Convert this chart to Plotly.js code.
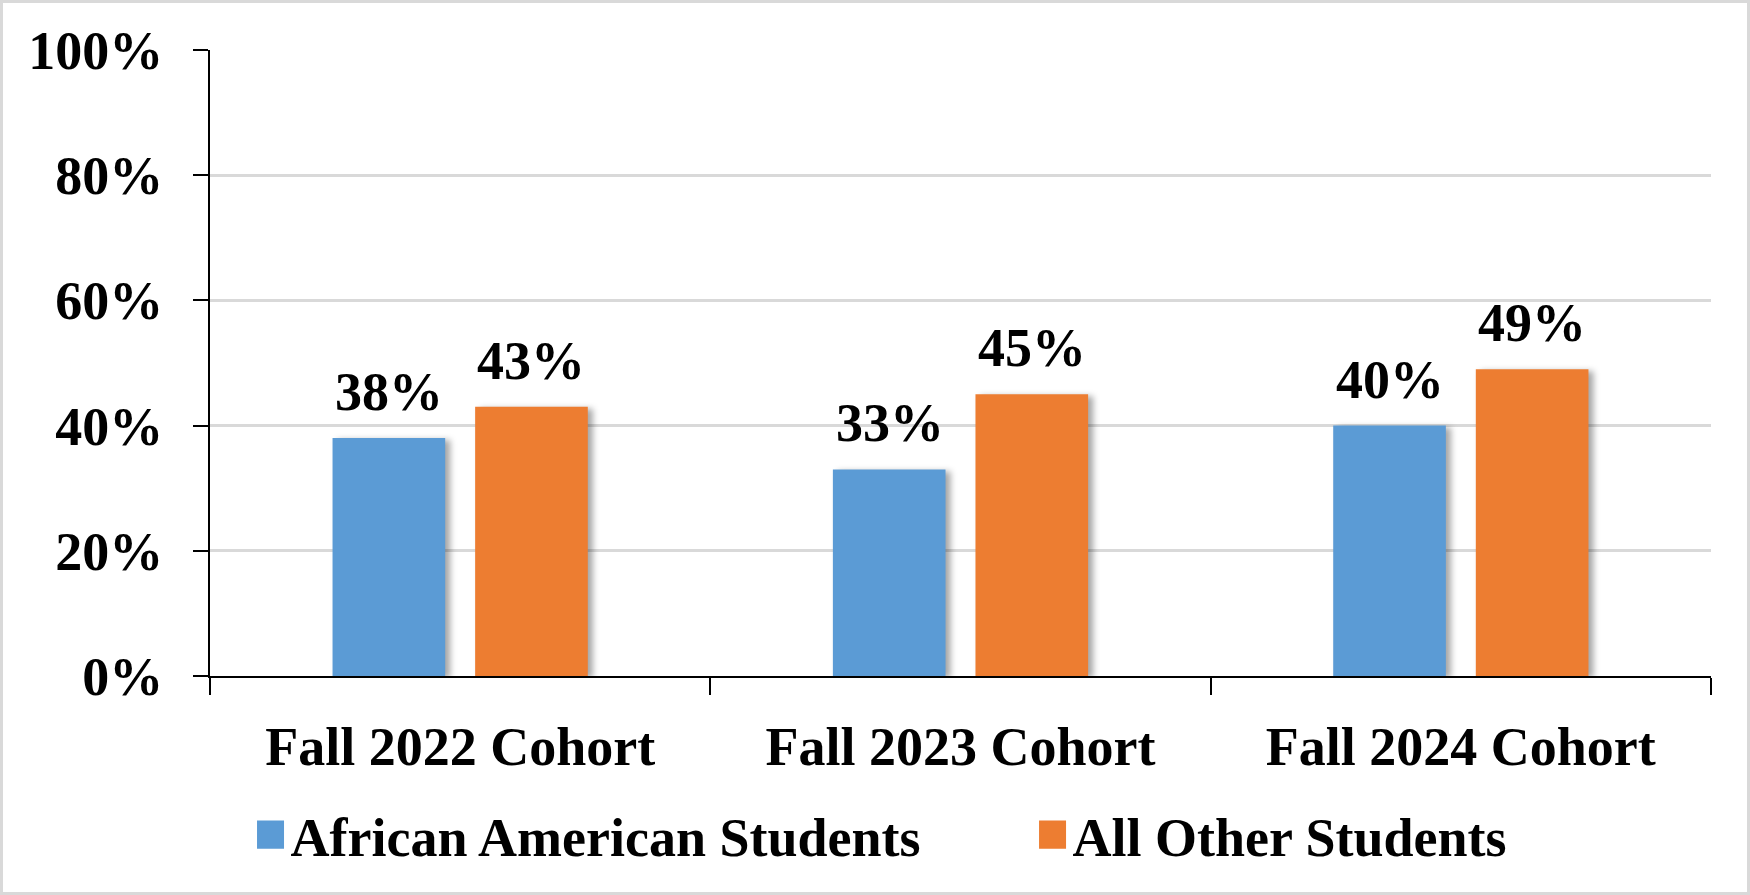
<!DOCTYPE html>
<html>
<head>
<meta charset="utf-8">
<script src="https://cdn.plot.ly/plotly-3.0.1.min.js"></script>
<style>
  html, body { margin: 0; padding: 0; background: #fff; }
  #chart {
    width: 1750px;
    height: 895px;
    box-sizing: border-box;
    border: 3px solid #d9d9d9;
  }
  /* soft shadow like the office chart bars */
  #chart .barlayer .point path {
    filter: drop-shadow(5px 2px 3px rgba(0, 0, 0, 0.35));
  }
</style>
</head>
<body>
<div id="chart"></div>
<script>
const cohorts = ['Fall 2022 Cohort', 'Fall 2023 Cohort', 'Fall 2024 Cohort']
const africanAmerican = [38, 33, 40]
const allOther = [43, 45, 49]
const yTicks = [0, 20, 40, 60, 80, 100]

const font = {family: 'Liberation Serif, Times New Roman, serif', color: '#000', weight: 'bold'}

const barTrace = (name, values, color, legend) => ({
  type: 'bar',
  name: name,
  legend: legend,
  x: cohorts,
  y: values,
  marker: {color: color},
  hoverinfo: 'none',
})

const data = [
  barTrace('African American Students', africanAmerican, '#5B9BD5', 'legend'),
  barTrace('All Other Students', allOther, '#ED7D31', 'legend2'),
]

// value labels sit a bit higher above the bars than plotly's outside text,
// so use annotations shifted onto each bar of the group
const labelShift = 71
const valueLabels = (values, xshift) =>
  values.map((v, i) => ({
    x: cohorts[i],
    y: v,
    xref: 'x',
    yref: 'y',
    text: v + '%',
    showarrow: false,
    xanchor: 'center',
    yanchor: 'bottom',
    xshift: xshift,
    yshift: 14,
    font: {...font, size: 54},
  }))

// one legend per series so the two entries sit far apart on one row
const legendBase = {
  orientation: 'h',
  xanchor: 'left',
  y: -0.254,
  yanchor: 'middle',
  font: {...font, size: 54},
  itemclick: false,
}

const layout = {
  width: 1744,
  height: 889,
  margin: {l: 207, r: 36, t: 47, b: 216, pad: 0},
  paper_bgcolor: '#fff',
  plot_bgcolor: '#fff',
  barmode: 'group',
  bargap: 0.43,
  bargroupgap: 0.21,
  showlegend: true,
  font: {...font, size: 54},
  legend: {...legendBase, x: 0.027},
  legend2: {...legendBase, x: 0.548},
  annotations: [
    ...valueLabels(africanAmerican, -labelShift),
    ...valueLabels(allOther, labelShift),
  ],
  xaxis: {
    type: 'category',
    showline: true,
    linecolor: '#000',
    linewidth: 2,
    ticks: 'outside',
    tickson: 'boundaries',
    ticklen: 17,
    tickwidth: 2,
    tickcolor: '#000',
    ticklabelstandoff: 22,
    tickfont: {...font, size: 54},
    showgrid: false,
    fixedrange: true,
  },
  yaxis: {
    range: [0, 100],
    tickvals: yTicks,
    ticktext: yTicks.map((v) => v + '%'),
    showline: true,
    linecolor: '#000',
    linewidth: 2,
    ticks: 'outside',
    ticklen: 15,
    tickwidth: 2,
    tickcolor: '#000',
    ticklabelstandoff: 19,
    tickfont: {...font, size: 54},
    showgrid: true,
    gridcolor: '#d9d9d9',
    gridwidth: 3,
    zeroline: false,
    fixedrange: true,
  },
}

Plotly.newPlot('chart', data, layout, {displayModeBar: false, staticPlot: true}).then((gd) => {
  // the reference legend keys are larger squares than plotly's 12px bar key
  gd.querySelectorAll('.legendpoints path').forEach((p) => {
    const t = p.getAttribute('transform') || ''
    p.setAttribute('transform', t + ' scale(2.25,2.35)')
  })
})
</script>
</body>
</html>
